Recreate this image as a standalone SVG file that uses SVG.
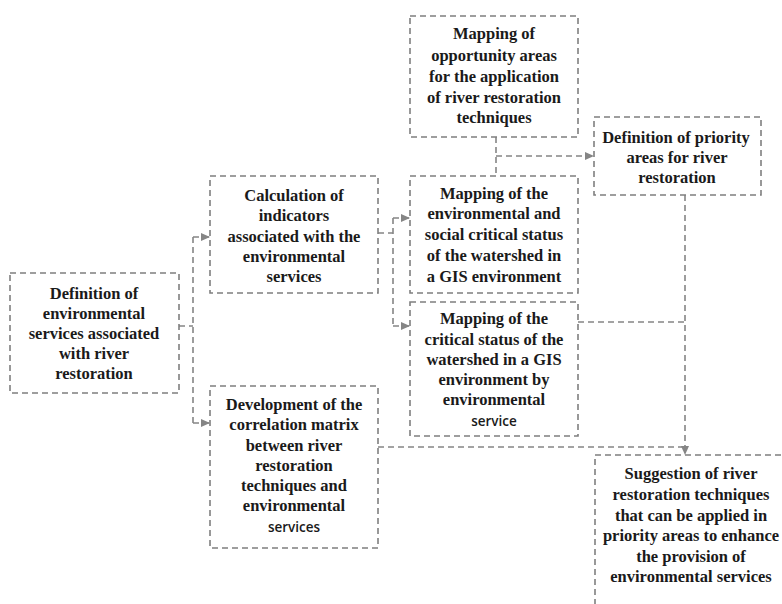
<svg xmlns="http://www.w3.org/2000/svg" width="782" height="604" viewBox="0 0 782 604">
  <style>
    .box { fill: none; stroke: #7f7f7f; stroke-width: 1.6; stroke-dasharray: 6 4; }
    .link { fill: none; stroke: #858585; stroke-width: 1.6; stroke-dasharray: 6 4; }
    .t { font-family: "Liberation Serif", "Times New Roman", serif; font-weight: bold; font-size: 16.5px; fill: #1a1a1a; text-anchor: middle; }
    .s { font-family: "Open Sans", "Liberation Sans", sans-serif; font-weight: 600; font-size: 13.5px; fill: #1a1a1a; text-anchor: middle; }
  </style>
  <defs>
    <marker id="arrow" markerUnits="userSpaceOnUse" markerWidth="9" markerHeight="8" refX="9" refY="4" orient="auto">
      <path d="M0,0 L9,4 L0,8 Z" fill="#858585"/>
    </marker>
  </defs>
  <rect width="782" height="604" fill="#ffffff"/>

  <g id="connectors">
    <!-- definition of services -> indicators / correlation matrix -->
    <path class="link" d="M179,326 H193"/>
    <path class="link" d="M193,237 V423"/>
    <path class="link" d="M193,237 H210" marker-end="url(#arrow)"/>
    <path class="link" d="M193,423 H210" marker-end="url(#arrow)"/>
    <!-- indicators -> mapping boxes -->
    <path class="link" d="M378,233 H393"/>
    <path class="link" d="M393,218 V326"/>
    <path class="link" d="M393,218 H410" marker-end="url(#arrow)"/>
    <path class="link" d="M393,326 H410" marker-end="url(#arrow)"/>
    <!-- opportunity areas + social status -> priority areas -->
    <path class="link" d="M496,137 V176"/>
    <path class="link" d="M496,156 H594" marker-end="url(#arrow)"/>
    <!-- priority areas, critical status, matrix -> suggestion -->
    <path class="link" d="M578,322 H685"/>
    <path class="link" d="M378,447 H685"/>
    <path class="link" d="M685,195 V455" marker-end="url(#arrow)"/>
  </g>

  <g id="definition-services">
    <rect class="box" x="10" y="273" width="169" height="120"/>
    <text class="t" x="94" y="299">Definition of</text>
    <text class="t" x="94" y="319">environmental</text>
    <text class="t" x="94" y="339">services associated</text>
    <text class="t" x="94" y="359">with river</text>
    <text class="t" x="94" y="379">restoration</text>
  </g>

  <g id="calculation-indicators">
    <rect class="box" x="210" y="176" width="168" height="117"/>
    <text class="t" x="294" y="201">Calculation of</text>
    <text class="t" x="294" y="221">indicators</text>
    <text class="t" x="294" y="242">associated with the</text>
    <text class="t" x="294" y="262">environmental</text>
    <text class="t" x="294" y="282">services</text>
  </g>

  <g id="opportunity-areas">
    <rect class="box" x="410" y="16" width="168" height="121"/>
    <text class="t" x="494" y="39">Mapping of</text>
    <text class="t" x="494" y="61">opportunity areas</text>
    <text class="t" x="494" y="82">for the application</text>
    <text class="t" x="494" y="103">of river restoration</text>
    <text class="t" x="494" y="123">techniques</text>
  </g>

  <g id="priority-areas">
    <rect class="box" x="594" y="117" width="167" height="78"/>
    <text class="t" x="676" y="143">Definition of priority</text>
    <text class="t" x="677" y="163">areas for river</text>
    <text class="t" x="677" y="183">restoration</text>
  </g>

  <g id="social-critical-status">
    <rect class="box" x="410" y="176" width="168" height="117"/>
    <text class="t" x="494" y="199">Mapping of the</text>
    <text class="t" x="494" y="219">environmental and</text>
    <text class="t" x="494" y="240">social critical status</text>
    <text class="t" x="494" y="261">of the watershed in</text>
    <text class="t" x="494" y="282">a GIS environment</text>
  </g>

  <g id="critical-status-by-service">
    <rect class="box" x="410" y="302" width="168" height="134"/>
    <text class="t" x="494" y="324">Mapping of the</text>
    <text class="t" x="494" y="345">critical status of the</text>
    <text class="t" x="494" y="365">watershed in a GIS</text>
    <text class="t" x="494" y="385">environment by</text>
    <text class="t" x="494" y="405">environmental</text>
    <text class="s" x="494" y="426">service</text>
  </g>

  <g id="correlation-matrix">
    <rect class="box" x="210" y="386" width="168" height="162"/>
    <text class="t" x="294" y="410">Development of the</text>
    <text class="t" x="294" y="430">correlation matrix</text>
    <text class="t" x="294" y="451">between river</text>
    <text class="t" x="294" y="471">restoration</text>
    <text class="t" x="294" y="491">techniques and</text>
    <text class="t" x="294" y="511">environmental</text>
    <text class="s" x="294" y="532">services</text>
  </g>

  <g id="suggestion-techniques">
    <rect class="box" x="595" y="455" width="200" height="160"/>
    <text class="t" x="691" y="479">Suggestion of river</text>
    <text class="t" x="691" y="500">restoration techniques</text>
    <text class="t" x="691" y="521">that can be applied in</text>
    <text class="t" x="691" y="541">priority areas to enhance</text>
    <text class="t" x="691" y="562">the provision of</text>
    <text class="t" x="691" y="582">environmental services</text>
  </g>
</svg>
